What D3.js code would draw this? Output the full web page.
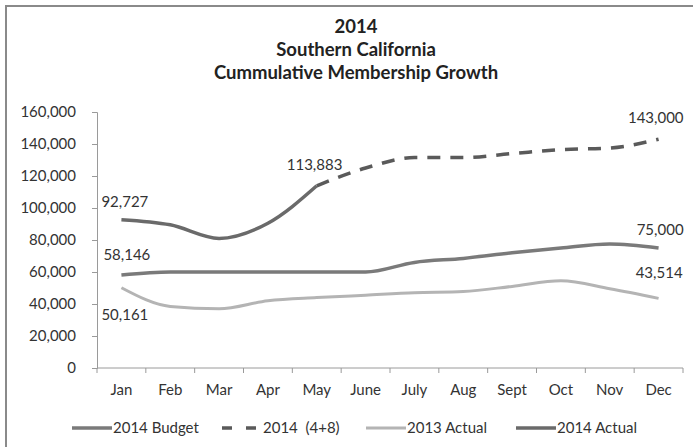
<!DOCTYPE html>
<html>
<head>
<meta charset="utf-8">
<script src="https://cdn.jsdelivr.net/npm/d3@7"></script>
<style>
  html, body { margin: 0; padding: 0; background: #fff; }
  svg { display: block; font-family: Lato, "Open Sans", sans-serif; }
</style>
</head>
<body>
<svg id="chart" width="694" height="447"></svg>
<script>
// Months on the category axis
const months = ["Jan", "Feb", "Mar", "Apr", "May", "June", "July", "Aug", "Sept", "Oct", "Nov", "Dec"];

// Cumulative membership by month
const budget2014   = [58146, 60000, 60000, 60000, 60000, 60000, 66000, 68500, 72000, 75000, 77500, 75000];
const forecast2014 = [null, null, null, null, 113883, 125000, 131500, 131500, 134000, 136500, 137500, 143000];
const actual2013   = [50161, 38500, 37000, 42000, 44000, 45500, 47000, 47800, 51000, 54500, 49500, 43514];
const actual2014   = [92727, 89500, 81000, 90500, 113883, null, null, null, null, null, null, null];

const yTicks = [0, 20000, 40000, 60000, 80000, 100000, 120000, 140000, 160000];
const titleLines = ["2014", "Southern California", "Cummulative Membership Growth"];

const svg = d3.select("#chart");

// Frame (top and left edges of the chart box)
svg.append("path")
  .attr("d", "M6,447 V6 H693")
  .attr("fill", "none")
  .attr("stroke", "#8a8a8a")
  .attr("stroke-width", 2);

// Title
svg.append("g").selectAll("text").data(titleLines).join("text")
  .attr("x", 356)
  .attr("y", (d, i) => 33 + i * 23)
  .attr("text-anchor", "middle")
  .attr("font-weight", "bold")
  .attr("font-size", 18.5)
  .attr("fill", "#222")
  .text(d => d);

const x = d3.scaleBand().domain(months).range([97, 683]);
const y = d3.scaleLinear().domain([0, 160000]).range([368, 112]);
const cx = m => x(m) + x.bandwidth() / 2;

// Y axis
const yAxis = svg.append("g")
  .attr("transform", "translate(97,0)")
  .call(d3.axisLeft(y).tickValues(yTicks).tickFormat(d3.format(",")).tickSize(5).tickPadding(16));
yAxis.select(".domain").attr("stroke", "#9a9a9a");
yAxis.selectAll(".tick line").attr("stroke", "#9a9a9a");
yAxis.selectAll("text").attr("font-size", 15).attr("fill", "#333").attr("font-family", "Lato, sans-serif");

// X axis with ticks on category boundaries
const xAxis = svg.append("g").attr("transform", "translate(0,368)");
xAxis.append("line")
  .attr("x1", 97).attr("x2", 683)
  .attr("stroke", "#9a9a9a");
xAxis.selectAll("line.tk").data(d3.range(months.length + 1)).join("line")
  .attr("class", "tk")
  .attr("x1", i => 97 + i * x.step()).attr("x2", i => 97 + i * x.step())
  .attr("y1", 0).attr("y2", 5)
  .attr("stroke", "#9a9a9a");
xAxis.selectAll("text").data(months).join("text")
  .attr("x", d => cx(d))
  .attr("y", 27)
  .attr("text-anchor", "middle")
  .attr("font-size", 15)
  .attr("fill", "#333")
  .text(d => d);

const line = d3.line()
  .defined(d => d[1] != null)
  .x(d => cx(d[0]))
  .y(d => y(d[1]))
  .curve(d3.curveMonotoneX);

const series = [
  { name: "2014 Budget",  values: budget2014,   color: "#7a7a7a", width: 3.5, dash: null },
  { name: "2014  (4+8)",  values: forecast2014, color: "#5a5a5a", width: 3.5, dash: "13,10" },
  { name: "2013 Actual",  values: actual2013,   color: "#b4b4b4", width: 3,   dash: null },
  { name: "2014 Actual",  values: actual2014,   color: "#6a6a6a", width: 3.5, dash: null }
];

svg.append("g").selectAll("path").data(series).join("path")
  .attr("d", s => line(months.map((m, i) => [m, s.values[i]])))
  .attr("fill", "none")
  .attr("stroke", s => s.color)
  .attr("stroke-width", s => s.width)
  .attr("stroke-dasharray", s => s.dash)
  .attr("stroke-linecap", "butt");

// Value labels at the series ends
const fmt = d3.format(",");
const labels = [
  { v: actual2014[0],    m: "Jan", dx: -20, dy: -13, anchor: "start" },
  { v: budget2014[0],    m: "Jan", dx: -18, dy: -15, anchor: "start" },
  { v: actual2013[0],    m: "Jan", dx: -20, dy: 32,  anchor: "start" },
  { v: forecast2014[4],  m: "May", dx: -30, dy: -16, anchor: "start" },
  { v: forecast2014[11], m: "Dec", dx: 25,  dy: -16, anchor: "end" },
  { v: budget2014[11],   m: "Dec", dx: 25,  dy: -13, anchor: "end" },
  { v: actual2013[11],   m: "Dec", dx: 24,  dy: -20, anchor: "end" }
];
svg.append("g").selectAll("text").data(labels).join("text")
  .attr("x", d => cx(d.m) + d.dx)
  .attr("y", d => y(d.v) + d.dy)
  .attr("text-anchor", d => d.anchor)
  .attr("font-size", 15)
  .attr("fill", "#333")
  .text(d => fmt(d.v));

// Legend
const legendX = [72, 222, 366, 516];
const lg = svg.append("g").selectAll("g").data(series).join("g")
  .attr("transform", (d, i) => `translate(${legendX[i]},428)`);
lg.append("line")
  .attr("x1", 0).attr("x2", 40).attr("y1", 0).attr("y2", 0)
  .attr("stroke", d => d.color)
  .attr("stroke-width", d => d.width)
  .attr("stroke-dasharray", d => d.dash ? "10,14" : null);
lg.append("text")
  .attr("x", 41).attr("y", 5)
  .attr("font-size", 15)
  .attr("fill", "#333")
  .attr("xml:space", "preserve")
  .style("white-space", "pre")
  .text(d => d.name);
</script>
</body>
</html>
